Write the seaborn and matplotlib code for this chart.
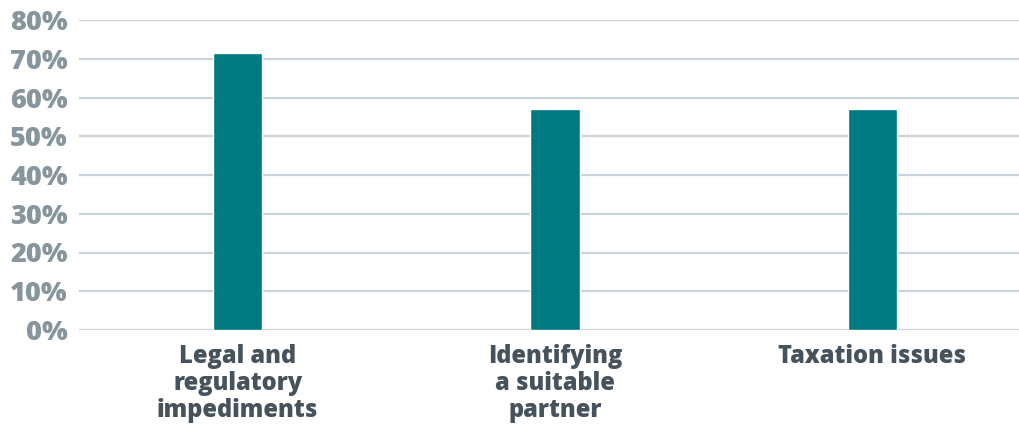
import matplotlib
matplotlib.use("Agg")
import matplotlib.pyplot as plt
import seaborn as sns
import pandas as pd
from matplotlib.ticker import PercentFormatter

categories = ["Legal and\nregulatory\nimpediments", "Identifying\na suitable\npartner", "Taxation issues"]
values = [71.4, 57.1, 57.1]
yticks = [0, 10, 20, 30, 40, 50, 60, 70, 80]

df = pd.DataFrame({"category": categories, "value": values})

sns.set_style("white")
plt.rcParams["font.family"] = ["Open Sans", "DejaVu Sans"]

fig = plt.figure(figsize=(10.2, 4.25), dpi=100)
ax = fig.add_axes([79 / 1020, 95 / 425, (1020 - 79) / 1020, 310 / 425])

sns.barplot(data=df, x="category", y="value", color="#007A80", width=0.155,
            saturation=1, ax=ax, zorder=3)

ax.set_ylim(0, 80)
ax.set_xlim(-0.5, 2.465)
ax.set_yticks(yticks)
ax.yaxis.set_major_formatter(PercentFormatter(decimals=0))
ax.grid(axis="y", color="#C9D3D8", linewidth=1.6, zorder=0)
ax.set_axisbelow(True)
for s in ax.spines.values():
    s.set_visible(False)
ax.set_xlabel("")
ax.set_ylabel("")
ax.tick_params(axis="y", length=0, pad=8, labelsize=19.5, labelcolor="#87959C")
ax.tick_params(axis="x", length=0, pad=10, labelsize=17, labelcolor="#46535C")
for t in ax.get_yticklabels():
    t.set_fontweight(800)
for t in ax.get_xticklabels():
    t.set_fontweight(800)
    t.set_linespacing(1.1)
    t.set_verticalalignment("top")

fig.savefig("out.png", dpi=100)
